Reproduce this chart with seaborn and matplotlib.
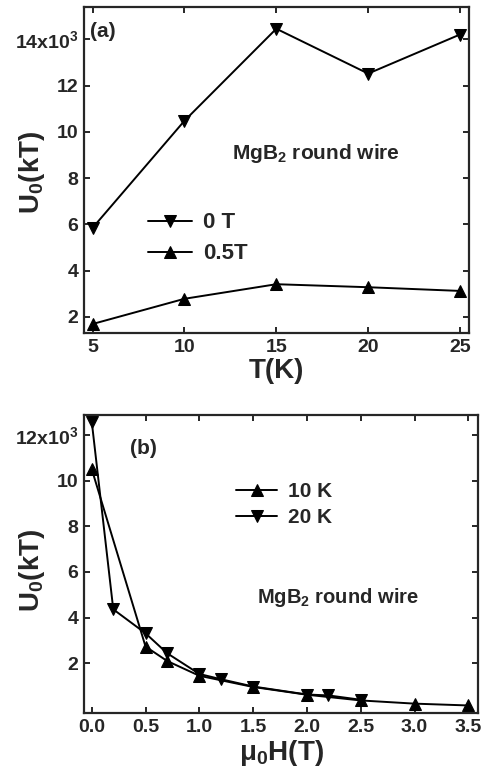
import matplotlib
matplotlib.use("Agg")
import matplotlib.pyplot as plt
import seaborn as sns
import pandas as pd

# Panel (a): U0 vs T
temps_a = [5, 10, 15, 20, 25]
u0_0T = [5.85, 10.48, 14.46, 12.52, 14.21]
u0_05T = [1.69, 2.78, 3.41, 3.28, 3.12]

# Panel (b): U0 vs mu0 H
field_10K = [0.0, 0.5, 0.7, 1.0, 1.5, 2.0, 2.5, 3.0, 3.5]
u0_10K = [10.5, 2.73, 2.1, 1.45, 0.96, 0.62, 0.37, 0.23, 0.15]
field_20K = [0.0, 0.2, 0.5, 0.7, 1.0, 1.2, 1.5, 2.0, 2.2, 2.5]
u0_20K = [12.58, 4.36, 3.31, 2.44, 1.53, 1.3, 0.98, 0.63, 0.59, 0.4]

yticks_a = [2, 4, 6, 8, 10, 12, 14]
ytick_labels_a = ['2', '4', '6', '8', '10', '12', '14x10$^3$']
xticks_a = [5, 10, 15, 20, 25]
yticks_b = [2, 4, 6, 8, 10, 12]
ytick_labels_b = ['2', '4', '6', '8', '10', '12x10$^3$']
xticks_b = [0.0, 0.5, 1.0, 1.5, 2.0, 2.5, 3.0, 3.5]

sns.set_style("ticks")
plt.rcParams['font.family'] = ['Liberation Sans', 'DejaVu Sans']
plt.rcParams['font.weight'] = 'bold'
plt.rcParams['mathtext.default'] = 'regular'

fig = plt.figure(figsize=(4.84, 7.84), dpi=100)
ax1 = fig.add_axes([84/484, 1-333/784, (469-84)/484, (333-7)/784])
ax2 = fig.add_axes([84/484, 1-713/784, (478-84)/484, (713-415)/784])

df_a = pd.DataFrame({
    'T': temps_a * 2,
    'U0': u0_0T + u0_05T,
    'field': ['0 T'] * len(temps_a) + ['0.5T'] * len(temps_a),
})
sns.lineplot(data=df_a, x='T', y='U0', hue='field', style='field',
             markers={'0 T': 'v', '0.5T': '^'}, dashes=False,
             palette={'0 T': 'black', '0.5T': 'black'},
             markersize=8, linewidth=1.4, markeredgecolor='black',
             ax=ax1)

df_b = pd.DataFrame({
    'H': field_10K + field_20K,
    'U0': u0_10K + u0_20K,
    'temp': ['10 K'] * len(field_10K) + ['20 K'] * len(field_20K),
})
sns.lineplot(data=df_b, x='H', y='U0', hue='temp', style='temp',
             markers={'10 K': '^', '20 K': 'v'}, dashes=False,
             palette={'10 K': 'black', '20 K': 'black'},
             markersize=8, linewidth=1.4, markeredgecolor='black',
             ax=ax2)

for ax in (ax1, ax2):
    for s in ax.spines.values():
        s.set_linewidth(1.6)
        s.set_visible(True)
    ax.tick_params(direction='in', length=4, width=1.4, top=True, right=True,
                   labelsize=14, pad=4)

ax1.set_xlim(4.53, 25.49)
ax1.set_ylim(1.3, 15.4)
ax1.set_xticks(xticks_a)
ax1.set_yticks(yticks_a)
ax1.set_yticklabels(ytick_labels_a, fontweight='bold')
ax1.set_xticklabels([str(v) for v in xticks_a], fontweight='bold')
ax1.set_xlabel('T(K)', fontsize=20, fontweight='bold', labelpad=2)
ax1.set_ylabel('U$_0$(kT)', fontsize=20, fontweight='bold')
ax1.yaxis.set_label_coords(-0.095, 0.494)
ax1.text(0.016, 0.955, '(a)', transform=ax1.transAxes, fontsize=15,
         fontweight='bold', va='top', ha='left')
ax1.text(0.385, 0.552, 'MgB$_2$ round wire', transform=ax1.transAxes,
         fontsize=15, fontweight='bold', va='center', ha='left')
leg1 = ax1.legend(loc='upper left', bbox_to_anchor=(0.165, 0.37), frameon=False,
                  fontsize=16, handlelength=2.0, handletextpad=0.5,
                  labelspacing=0.45, borderaxespad=0, borderpad=0)
for t in leg1.get_texts():
    t.set_fontweight('bold')

ax2.set_xlim(-0.072, 3.59)
ax2.set_ylim(-0.18, 12.87)
ax2.set_xticks(xticks_b)
ax2.set_yticks(yticks_b)
ax2.set_yticklabels(ytick_labels_b, fontweight='bold')
ax2.set_xticklabels(['%.1f' % v for v in xticks_b], fontweight='bold')
ax2.set_xlabel('$\\mu_0$H(T)', fontsize=20, fontweight='bold', labelpad=2)
ax2.set_ylabel('U$_0$(kT)', fontsize=20, fontweight='bold')
ax2.yaxis.set_label_coords(-0.094, 0.48)
ax2.text(0.117, 0.92, '(b)', transform=ax2.transAxes, fontsize=15,
         fontweight='bold', va='top', ha='left')
ax2.text(0.439, 0.386, 'MgB$_2$ round wire', transform=ax2.transAxes,
         fontsize=14.5, fontweight='bold', va='center', ha='left')
leg2 = ax2.legend(loc='upper left', bbox_to_anchor=(0.385, 0.775), frameon=False,
                  fontsize=15, handlelength=2.0, handletextpad=0.5,
                  labelspacing=0.35, borderaxespad=0, borderpad=0)
for t in leg2.get_texts():
    t.set_fontweight('bold')

fig.savefig('out.png', dpi=100)
